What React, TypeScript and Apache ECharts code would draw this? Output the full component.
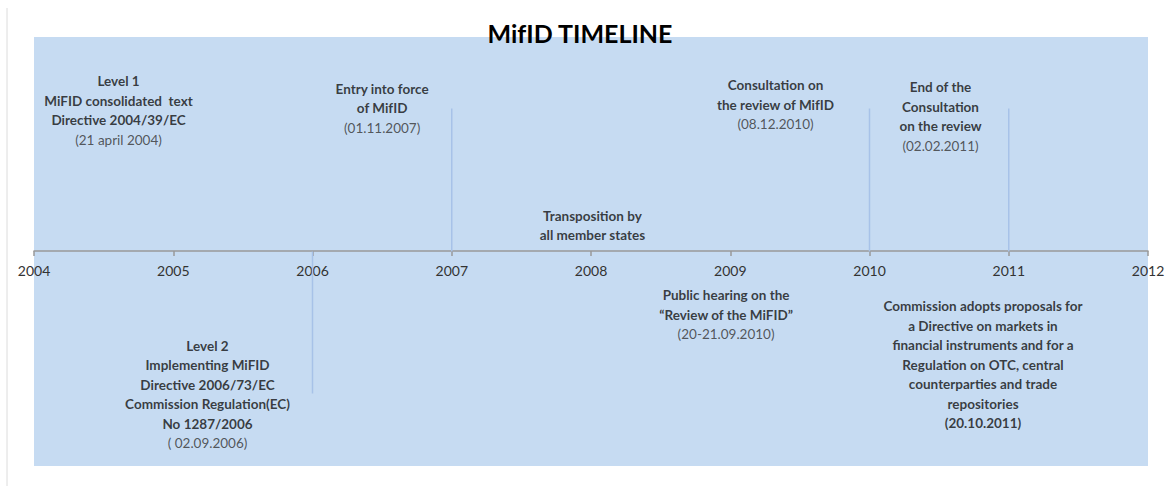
import React, { useEffect, useRef } from "react";
import * as echarts from "echarts";

const title = "MifID TIMELINE";
const years = [2004, 2005, 2006, 2007, 2008, 2009, 2010, 2011, 2012];

// vertical connector lines: [year, yFrom, yTo]
const connectorYears = [2006, 2007, 2010, 2011];
const connectorFrom = [0, 0, 0, 0];
const connectorTo = [-0.662, 0.667, 0.667, 0.667];

// annotation blocks: centre position (year, y) and text lines; "b" = bold, "n" = normal
const eventX = [2004.607, 2006.5, 2008.01, 2009.325, 2010.51, 2008.97, 2010.815, 2005.246];
const eventY = [0.657, 0.667, 0.121, 0.685, 0.629, -0.294, -0.529, -0.667];
const eventLines: string[][] = [
  ["Level 1", "MiFID consolidated  text", "Directive 2004/39/EC", "(21 april 2004)"],
  ["Entry into force", "of MifID", "(01.11.2007)"],
  ["Transposition by", "all member states"],
  ["Consultation on", "the review of MifID", "(08.12.2010)"],
  ["End of the", "Consultation", "on the review", "(02.02.2011)"],
  ["Public hearing on the", "\u201CReview of the MiFID\u201D", "(20-21.09.2010)"],
  [
    "Commission adopts proposals for",
    "a Directive on markets in",
    "financial instruments and for a",
    "Regulation on OTC, central",
    "counterparties and trade",
    "repositories",
    "(20.10.2011)",
  ],
  [
    "Level 2",
    "Implementing MiFID",
    "Directive 2006/73/EC",
    "Commission Regulation(EC)",
    "No 1287/2006",
    "( 02.09.2006)",
  ],
];
const eventStyles: string[][] = [
  ["b", "b", "b", "n"],
  ["b", "b", "n"],
  ["b", "b"],
  ["b", "b", "n"],
  ["b", "b", "b", "n"],
  ["b", "b", "n"],
  ["b", "b", "b", "b", "b", "b", "b"],
  ["b", "b", "b", "b", "b", "n"],
];

const FONT = "Lato, 'Open Sans', sans-serif";

export default function App() {
  const ref = useRef<HTMLDivElement>(null);
  useEffect(() => {
    if (!ref.current) return;
    const chart = echarts.init(ref.current, undefined, { renderer: "svg" });

    const lineSeries = connectorYears.map((yr, i) => ({
      type: "line",
      data: [
        [yr, connectorFrom[i]],
        [yr, connectorTo[i]],
      ],
      symbol: "none",
      silent: true,
      lineStyle: { color: "#a7c2e8", width: 1.5 },
      z: 1,
    }));

    const textSeries = {
      type: "scatter",
      symbolSize: 1,
      itemStyle: { color: "rgba(0,0,0,0)" },
      silent: true,
      z: 5,
      data: eventX.map((x, i) => ({
        value: [x, eventY[i]],
        label: {
          show: true,
          position: "inside",
          align: "center",
          verticalAlign: "middle",
          formatter: eventLines[i]
            .map((l, j) => `{${eventStyles[i][j]}|${l}}`)
            .join("\n"),
          rich: {
            b: {
              fontFamily: FONT,
              fontWeight: "bold",
              fontSize: 13.5,
              color: "#111",
              lineHeight: 19.5,
              align: "center",
            },
            n: {
              fontFamily: FONT,
              fontWeight: "normal",
              fontSize: 13.5,
              color: "#333",
              lineHeight: 19.5,
              align: "center",
            },
          },
        },
      })),
    };

    chart.setOption({
      animation: false,
      backgroundColor: "#ffffff",
      grid: {
        left: 34,
        right: 1171 - 1148,
        top: 37,
        bottom: 486 - 466,
        show: true,
        backgroundColor: "#c6dbf2",
        borderWidth: 0,
        containLabel: false,
      },
      xAxis: {
        type: "value",
        min: years[0],
        max: years[years.length - 1],
        interval: 1,
        position: "bottom",
        offset: -215,
        axisLine: { show: true, onZero: false, lineStyle: { color: "#999999", width: 1.5 } },
        axisTick: { show: true, length: 5, lineStyle: { color: "#999999", width: 1.5 } },
        axisLabel: {
          color: "#333",
          fontFamily: FONT,
          fontSize: 14,
          margin: 12,
          formatter: (v: number) => String(v),
        },
        splitLine: { show: false },
      },
      yAxis: {
        type: "value",
        min: -1,
        max: 1,
        show: false,
        splitLine: { show: false },
      },
      graphic: [
        {
          type: "line",
          shape: { x1: 7, y1: 8, x2: 7, y2: 486 },
          style: { stroke: "#dcdcdc", lineWidth: 1 },
          silent: true,
        },
        {
          type: "text",
          x: 580,
          y: 33,
          z: 10,
          style: {
            text: title,
            fontFamily: FONT,
            fontWeight: "bold",
            fontSize: 25,
            fill: "#000",
            align: "center",
            verticalAlign: "middle",
          },
        },
      ],
      series: [...lineSeries, textSeries],
    });

    return () => chart.dispose();
  }, []);

  return (
    <div
      ref={ref}
      style={{ position: "absolute", left: 0, top: 0, width: 1171, height: 486 }}
    />
  );
}
